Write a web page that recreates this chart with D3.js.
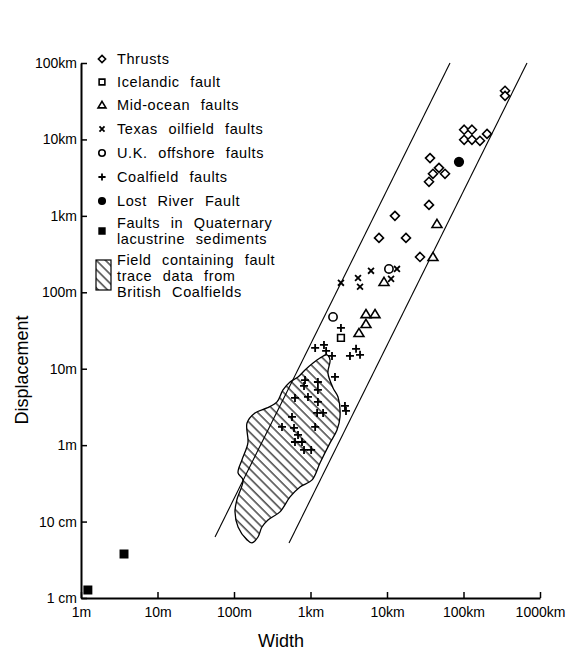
<!DOCTYPE html>
<html lang="en">
<head>
<meta charset="utf-8">
<script src="https://cdn.jsdelivr.net/npm/d3@7"></script>
<style type="text/css">

body {
	margin: 0;
	background-color: #ffffff;
	font-family: "Liberation Sans", Arial, Helvetica, sans-serif;
}

.axis text {
	font-size: 14px;
	fill: #000;
}

.axis path {
	stroke: #000;
	stroke-width: 2;
}

.axis line {
	stroke: #000;
	stroke-width: 1.5;
}

.legend text {
	font-size: 14.5px;
	letter-spacing: 0.6px;
	word-spacing: 6px;
}

.title {
	font-size: 18px;
}

</style>
</head>
<body>
<script type="text/javascript">

// tick values (metres) and their labels
var xTickValues = [1, 10, 100, 1e3, 1e4, 1e5, 1e6];
var xTickLabels = ["1m", "10m", "100m", "1km", "10km", "100km", "1000km"];
var yTickValues = [0.01, 0.1, 1, 10, 100, 1e3, 1e4, 1e5];
var yTickLabels = ["1 cm", "10 cm", "1m", "10m", "100m", "1km", "10km", "100km"];

// [width, displacement] in metres
var thrusts = [
	[3.49e5, 4.33e4], [3.49e5, 3.72e4],
	[1.02e5, 1.34e4], [1.29e5, 1.34e4], [1.02e5, 9.9e3], [1.29e5, 9.9e3],
	[1.64e5, 9.6e3], [2.03e5, 1.18e4],
	[3.65e4, 5.7e3], [4.78e4, 4.25e3], [3.99e4, 3.55e3], [5.73e4, 3.55e3],
	[3.54e4, 2.79e3], [3.54e4, 1.39e3], [1.27e4, 1.0e3],
	[7.86e3, 515], [1.77e4, 515], [2.7e4, 290]
];
var icelandic = [[2.5e3, 25.3]];
var midOcean = [
	[5.31e3, 52], [6.97e3, 52], [5.31e3, 38.6], [4.3e3, 29.4],
	[9.14e3, 137], [3.99e4, 290], [4.5e4, 786]
];
var texas = [
	[2.5e3, 133], [4.18e3, 154], [4.44e3, 118], [6.18e3, 191],
	[1.35e4, 202], [1.13e4, 150]
];
var ukOffshore = [[1.97e3, 47.6], [1.06e4, 202]];
var coalfield = [
	[2.5e3, 34.2], [1.15e3, 18.7], [1.5e3, 20.5], [1.6e3, 17.1], [1.91e3, 14.7],
	[3.28e3, 14.7], [3.94e3, 18.2], [4.44e3, 15.2],
	[2.09e3, 7.8], [848, 7.1], [1.25e3, 6.7], [823, 5.96], [1.25e3, 5.28],
	[627, 4.15], [927, 4.27], [1.25e3, 3.68], [2.82e3, 3.26], [2.91e3, 2.8],
	[1.22e3, 2.64], [1.46e3, 2.64], [573, 2.34], [424, 1.73], [609, 1.68],
	[1.15e3, 1.73], [687, 1.36], [627, 1.10], [774, 1.10], [823, 0.865], [1.02e3, 0.865]
];
var lostRiver = [[8.73e4, 5.09e3]];
var quaternary = [[1.23, 0.0127], [3.65, 0.0377]];

// outline of the British Coalfields field (width, displacement)
var coalField = [
	[1.64e3, 15.2], [1.8e3, 13.0], [1.69e3, 8.81], [1.97e3, 5.61], [2.29e3, 4.27],
	[2.43e3, 2.34], [2.22e3, 1.58], [1.8e3, 1.07], [1.33e3, 0.585], [1.05e3, 0.351],
	[729, 0.284], [540, 0.21], [399, 0.134], [278, 0.105], [232, 0.0849],
	[206, 0.0628], [172, 0.0525], [148, 0.0574], [113, 0.0849], [103, 0.134],
	[109, 0.192], [131, 0.351], [113, 0.433], [127, 0.64], [152, 1.07],
	[148, 1.95], [188, 2.64], [270, 3.07], [365, 3.68], [437, 5.28],
	[540, 6.71], [687, 7.8], [848, 9.64], [1.08e3, 11.9], [1.33e3, 13.8]
];

// the two bounding lines
var leftBound = [[56.5, 0.063], [6.66e4, 1e5]];
var rightBound = [[524, 0.0525], [6.76e5, 1e5]];

var legendNames = [
	["Thrusts"], ["Icelandic fault"], ["Mid-ocean faults"], ["Texas oilfield faults"],
	["U.K. offshore faults"], ["Coalfield faults"], ["Lost River Fault"],
	["Faults in Quaternary", "lacustrine sediments"]
];
var legendKinds = ["diamond", "square", "triangle", "x", "circle", "plus", "dot", "block"];
var fieldLegend = ["Field containing fault", "trace data from", "British Coalfields"];

var width = 569;
var height = 652;

var svg = d3.select("body")
	.append("svg")
	.attr("width", width)
	.attr("height", height);

var x = d3.scaleLog().domain([1, 1e6]).range([81, 540]);
var y = d3.scaleLog().domain([0.01, 1e5]).range([598, 63]);

// hatching
svg.append("defs")
	.append("pattern")
	.attr("id", "hatch")
	.attr("patternUnits", "userSpaceOnUse")
	.attr("width", 6.5)
	.attr("height", 10)
	.attr("patternTransform", "rotate(-45)")
	.append("line")
	.attr("x1", 1).attr("y1", 0)
	.attr("x2", 1).attr("y2", 10)
	.style("stroke", "#000")
	.style("stroke-width", 1.1);

// marker shapes, drawn round 0,0
function marker(kind, s) {
	var p = d3.path();
	if (kind == "diamond") {
		p.moveTo(0, -s); p.lineTo(s, 0); p.lineTo(0, s); p.lineTo(-s, 0); p.closePath();
	} else if (kind == "square" || kind == "block") {
		p.rect(-s * 0.8, -s * 0.8, s * 1.6, s * 1.6);
	} else if (kind == "triangle") {
		p.moveTo(0, -s); p.lineTo(s * 1.1, s * 0.8); p.lineTo(-s * 1.1, s * 0.8); p.closePath();
	} else if (kind == "x") {
		var a = s * 0.7;
		p.moveTo(-a, -a); p.lineTo(a, a); p.moveTo(a, -a); p.lineTo(-a, a);
	} else if (kind == "plus") {
		p.moveTo(-s, 0); p.lineTo(s, 0); p.moveTo(0, -s); p.lineTo(0, s);
	} else {
		p.arc(0, 0, s * 0.9, 0, 2 * Math.PI);
	}
	return p.toString();
}

function styleMarker(sel, kind) {
	var filled = (kind == "dot" || kind == "block");
	sel.style("fill", filled ? "#000" : (kind == "x" || kind == "plus" ? "none" : "#fff"))
		.style("stroke", "#000")
		.style("stroke-width", (kind == "x" || kind == "plus") ? 1.8 : 1.6);
}

// field
var line = d3.line()
	.x(function(d) { return x(d[0]); })
	.y(function(d) { return y(d[1]); });

svg.append("path")
	.datum(coalField)
	.attr("d", line.curve(d3.curveCatmullRomClosed.alpha(0.5)))
	.style("fill", "url(#hatch)")
	.style("stroke", "#000")
	.style("stroke-width", 1.3);

line.curve(d3.curveLinear);

// bounding lines
[leftBound, rightBound].forEach(function(b) {
	svg.append("path")
		.datum(b)
		.attr("d", line)
		.style("fill", "none")
		.style("stroke", "#000")
		.style("stroke-width", 1.1);
});

// axes
var xAxis = d3.axisBottom(x)
	.tickValues(xTickValues)
	.tickFormat(function(d) { return xTickLabels[xTickValues.indexOf(d)]; })
	.tickSizeInner(-6)
	.tickSizeOuter(0)
	.tickPadding(9);

var yAxis = d3.axisLeft(y)
	.tickValues(yTickValues)
	.tickFormat(function(d) { return yTickLabels[yTickValues.indexOf(d)]; })
	.tickSizeInner(-6)
	.tickSizeOuter(0)
	.tickPadding(4);

svg.append("g")
	.attr("class", "x axis")
	.attr("transform", "translate(0,598)")
	.call(xAxis);

svg.append("g")
	.attr("class", "y axis")
	.attr("transform", "translate(81,0)")
	.call(yAxis);

svg.selectAll(".axis text").attr("font-family", null).attr("font-size", null);

// points
var series = [
	[thrusts, "diamond", 4.5],
	[icelandic, "square", 4.2],
	[midOcean, "triangle", 4.5],
	[texas, "x", 4.2],
	[ukOffshore, "circle", 4.6],
	[coalfield, "plus", 4],
	[lostRiver, "dot", 4.8],
	[quaternary, "block", 4.6]
];

series.forEach(function(s) {
	svg.append("g")
		.selectAll("path")
		.data(s[0])
		.enter()
		.append("path")
		.attr("transform", function(d) { return "translate(" + x(d[0]) + "," + y(d[1]) + ")"; })
		.attr("d", marker(s[1], s[2]))
		.call(styleMarker, s[1]);
});

// legend
var legend = svg.append("g").attr("class", "legend");
var rowY = [59, 82, 105, 129, 153, 177, 201, 231];

legendNames.forEach(function(names, i) {
	legend.append("path")
		.attr("transform", "translate(102," + rowY[i] + ")")
		.attr("d", marker(legendKinds[i], 3.6))
		.call(styleMarker, legendKinds[i]);
	names.forEach(function(t, j) {
		legend.append("text")
			.attr("x", 117)
			.attr("y", rowY[i] + (names.length > 1 ? (j - 0.5) * 16 : 0))
			.attr("dy", "0.35em")
			.text(t);
	});
});

legend.append("rect")
	.attr("x", 96).attr("y", 260)
	.attr("width", 15).attr("height", 30)
	.style("fill", "url(#hatch)")
	.style("stroke", "#000")
	.style("stroke-width", 1.2);

fieldLegend.forEach(function(t, j) {
	legend.append("text")
		.attr("x", 117)
		.attr("y", 260 + j * 16)
		.attr("dy", "0.35em")
		.text(t);
});

// axis titles
svg.append("text")
	.attr("class", "title")
	.attr("x", 281)
	.attr("y", 641)
	.attr("dy", "0.35em")
	.attr("text-anchor", "middle")
	.text("Width");

svg.append("text")
	.attr("class", "title")
	.attr("transform", "translate(22,370) rotate(-90)")
	.attr("dy", "0.35em")
	.attr("text-anchor", "middle")
	.text("Displacement");

</script>
</body>
</html>
